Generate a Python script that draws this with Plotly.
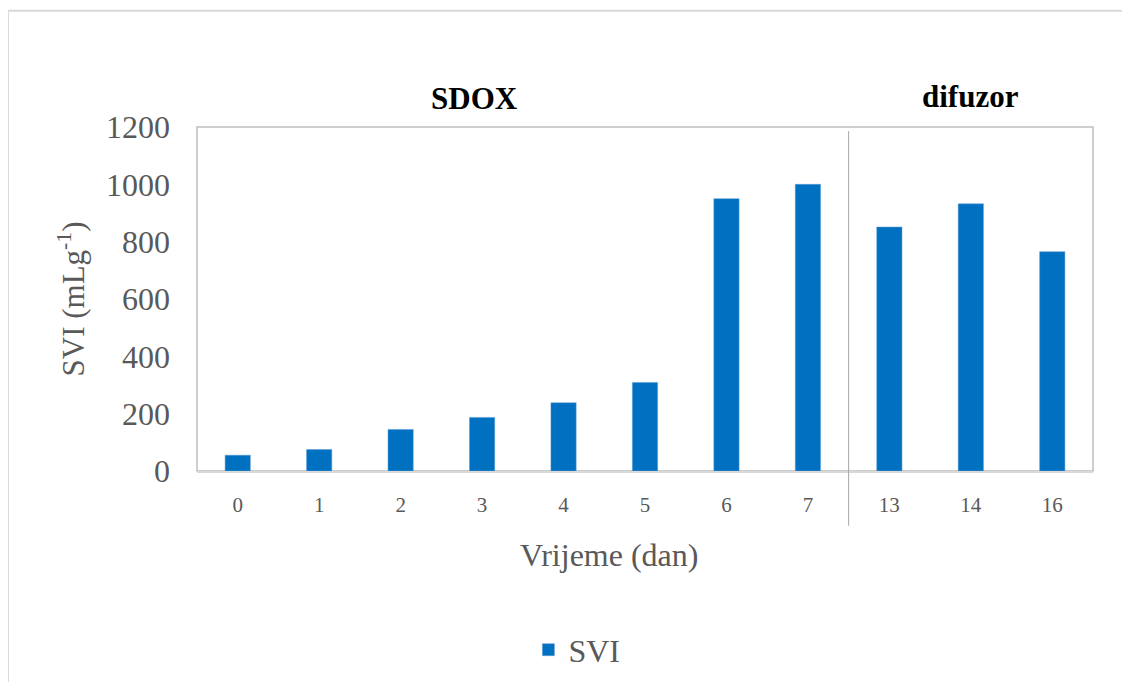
import plotly.graph_objects as go

days = ["0", "1", "2", "3", "4", "5", "6", "7", "13", "14", "16"]
svi = [55, 75, 145, 187, 238, 309, 950, 1000, 851, 932, 765]
y_ticks = [0, 200, 400, 600, 800, 1000, 1200]

SERIF = "Liberation Serif"
GREY_TEXT = "#595959"

fig = go.Figure()
fig.add_trace(go.Bar(
    x=days,
    y=svi,
    name="SVI",
    marker=dict(color="#0070C0", line=dict(color="#5b9bd5", width=0.5)),
))

# page body adds an 8px offset, so the figure is laid out 8px up/left
fig.update_layout(
    width=1130,
    height=682,
    margin=dict(l=189, r=45, t=119, b=217),
    plot_bgcolor="white",
    paper_bgcolor="white",
    bargap=0.69,
    font=dict(family=SERIF, color=GREY_TEXT),
    showlegend=True,
    legend=dict(
        orientation="h",
        x=0.424, xanchor="center",
        y=-0.52, yanchor="middle",
        font=dict(family=SERIF, size=32, color=GREY_TEXT),
    ),
)

fig.update_xaxes(
    type="category",
    showline=True, linecolor="#d9d9d9", linewidth=2,
    showgrid=False,
    tickfont=dict(family=SERIF, size=21, color=GREY_TEXT),
    ticklabelstandoff=14,
)
fig.update_yaxes(
    range=[0, 1200],
    tickvals=y_ticks,
    showline=False,
    showgrid=False,
    zeroline=False,
    tickfont=dict(family=SERIF, size=32, color=GREY_TEXT),
    ticklabelstandoff=26,
    title=dict(text="SVI (mLg<sup>-1</sup>)", font=dict(family=SERIF, size=31, color=GREY_TEXT), standoff=12),
)

# plot area border
fig.add_shape(type="rect", xref="x domain", yref="y domain", x0=0, x1=1, y0=0, y1=1,
              line=dict(color="#bfbfbf", width=1.5), layer="below")
# separator between the two phases
fig.add_shape(type="line", xref="x", yref="paper", x0=7.5, x1=7.5, y0=-0.159, y1=0.988,
              line=dict(color="#a6a6a6", width=1))
# outer chart frame
fig.add_shape(type="rect", xref="paper", yref="paper", x0=-0.211, x1=1.3, y0=-1.0, y1=1.338,
              line=dict(color="#d9d9d9", width=2))

# x axis title sits left of the plot centre in the original
fig.add_annotation(text="Vrijeme (dan)", xref="paper", yref="paper", x=0.46, y=-0.243,
                   xanchor="center", yanchor="middle", showarrow=False,
                   font=dict(family=SERIF, size=32, color=GREY_TEXT))
fig.add_annotation(text="SDOX", xref="paper", yref="paper", x=0.31, y=1.084,
                   xanchor="center", yanchor="middle", showarrow=False,
                   font=dict(family=SERIF, size=31, color="black", weight="bold"))
fig.add_annotation(text="difuzor", xref="paper", yref="paper", x=0.863, y=1.09,
                   xanchor="center", yanchor="middle", showarrow=False,
                   font=dict(family=SERIF, size=31, color="black", weight="bold"))

fig.write_html("out.html")
